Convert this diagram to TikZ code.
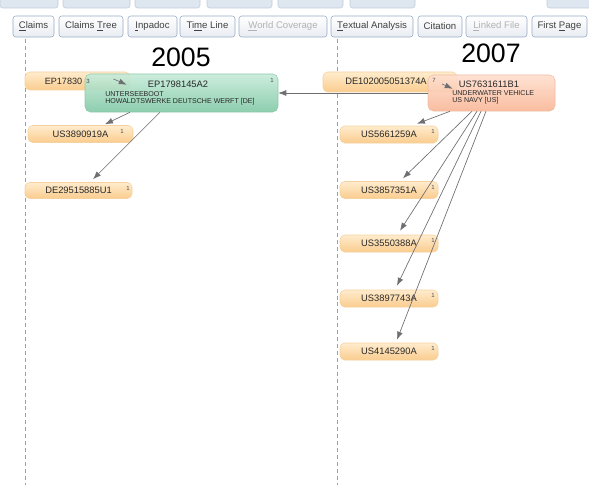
\documentclass[tikz,border=0pt]{standalone}
\usepackage{fontspec}
\setmainfont{Liberation Sans}
\usetikzlibrary{arrows.meta,calc}
\definecolor{tabborder}{RGB}{150,170,198}
\definecolor{tabbot}{RGB}{232,236,242}
\definecolor{stripc}{RGB}{222,230,240}
\definecolor{orgtop}{RGB}{255,236,205}
\definecolor{orgbot}{RGB}{250,204,142}
\definecolor{orgline}{RGB}{245,210,160}
\definecolor{grtop}{RGB}{200,236,218}
\definecolor{grbot}{RGB}{132,202,168}
\definecolor{grline}{RGB}{140,200,170}
\definecolor{saltop}{RGB}{255,224,208}
\definecolor{salbot}{RGB}{249,184,152}
\definecolor{salline}{RGB}{240,185,160}
\definecolor{conncol}{RGB}{110,110,115}
\definecolor{txt}{RGB}{40,40,40}
\begin{document}
\begin{tikzpicture}[x=0.75pt,y=-0.75pt,
  boxsize/.style 2 args={minimum width=#1*0.75pt, minimum height=#2*0.75pt},
  strip/.style={draw=tabborder!60, fill=stripc, rounded corners=2pt},
  tab/.style={draw=tabborder, top color=white, bottom color=tabbot, rounded corners=2pt,
    inner sep=0pt, font=\fontsize{7.2}{8}\selectfont, text=black!75},
  greytab/.style={tab, text=black!30},
  cite/.style={rounded corners=3.5pt, top color=orgtop, bottom color=orgbot, draw=orgline,
    inner sep=0pt, font=\fontsize{7}{8}\selectfont, text=txt},
  cnt/.style={font=\fontsize{4.5}{5}\selectfont, text=black!70, inner sep=0pt},
  big/.style={rounded corners=4pt, draw=#1line, top color=#1top, bottom color=#1bot, opacity=0.92, inner sep=0pt},
  title/.style={font=\fontsize{7}{8}\selectfont, text=txt, inner sep=0pt},
  sub/.style={font=\fontsize{5.3}{6}\selectfont, text=txt, inner sep=0pt, anchor=west},
  year/.style={font=\fontsize{20}{22}\selectfont, text=black, inner sep=0pt},
  timeline/.style={draw=gray!75, line width=0.5pt, dash pattern=on 3pt off 2.2pt},
  conn/.style={draw=conncol, line width=0.5pt, -{Latex[length=6pt,width=4.4pt]}}]
\useasboundingbox (0,0) rectangle (589,485);
\fill[white] (0,0) rectangle (589,485);

% upper faint tab strip
\foreach \a/\b in {0/58,63/130,135/200,207/272,278/343,350/415,547/595}
  \draw[strip] (\a,-4) rectangle (\b,8);

% tabs
\node[tab, boxsize={41}{21}] (t1) at (33.5,26.5) {\underline{C}laims};
\node[tab, boxsize={64}{21}] (t2) at (91,26.5) {Claims \underline{T}ree};
\node[tab, boxsize={49}{21}] (t3) at (152.5,26.5) {\underline{I}npadoc};
\node[tab, boxsize={55}{21}] (t4) at (207.5,26.5) {Ti\underline{m}e Line};
\node[greytab, boxsize={88}{21}] (t5) at (283,26.5) {\underline{W}orld Coverage};
\node[tab, boxsize={82}{21}] (t6) at (372,26.5) {\underline{T}extual Analysis};
\node[tab, boxsize={44}{21}] (t7) at (440,26.5) {Citation};
\node[greytab, boxsize={61}{21}] (t8) at (496.5,26.5) {\underline{L}inked File};
\node[tab, boxsize={55}{21}] (t9) at (559.5,26.5) {First \underline{P}age};

% time lines
\coordinate (la) at (25,39);
\coordinate (lb) at (25,485);
\coordinate (ra) at (337,39);
\coordinate (rb) at (337,485);
\draw[timeline] (la) -- (lb);
\draw[timeline] (ra) -- (rb);

% years
\node[year] (y05) at (181,57) {2005};
\node[year] (y07) at (491,53) {2007};

% partly hidden node
\node[cite, boxsize={105}{18}] (ep1) at (77.5,81) {};
\node[font=\fontsize{6.8}{8}\selectfont, text=txt, inner sep=0pt] (ep1t) at (63.5,81) {EP17830};

% green node
\node[big=gr, boxsize={193}{38}] (gr) at (181.5,93) {};
\node[cnt] (ep1c) at (88,81) {3};
\node[title] (grt) at (178,84) {EP1798145A2};
\node[cnt] (grc) at (272,80) {1};
\node[sub] (grs1) at (105,94.5) {UNTERSEEBOOT};
\node[sub] (grs2) at (105,101.5) {HOWALDTSWERKE DEUTSCHE WERFT [DE]};
\draw[conn] ($(ep1.center)+(36,-2)$) -- ($(gr.north west)+(42,11)$);

% left cited nodes
\node[cite, boxsize={105}{17}] (l1) at (80.5,134) {US3890919A};
\node[cnt] (l1c) at (122,131) {1};
\node[cite, boxsize={107}{16}] (l2) at (78.5,190.5) {DE29515885U1};
\node[cnt] (l2c) at (128,188) {1};
\draw[conn] ($(gr.south)+(-51.5,0)$) -- ($(l1.north)+(24.5,-1)$);
\draw[conn] ($(gr.south)+(-21.5,0)$) -- ($(l2.north)+(14.5,-3)$);

% right side
\node[cite, boxsize={134}{20}] (de) at (390,82) {};
\node[font=\fontsize{7}{8}\selectfont, text=txt, inner sep=0pt] (det) at (386,81) {DE102005051374A};
\node[big=sal, boxsize={127}{36}] (sal) at (491.5,93) {};
\node[cnt] (dec) at (434,80) {7};
\draw[conn] (sal.west) -- (gr.east);
\node[title] (salt) at (489,84) {US7631611B1};
\node[sub] (sals1) at (452,93.5) {UNDERWATER VEHICLE};
\node[sub] (sals2) at (452,101) {US NAVY [US]};
\draw[conn] ($(de.center)+(52,2)$) -- ($(sal.north west)+(25,14)$);

\node[cite, boxsize={98}{17}] (r1) at (389,134.5) {US5661259A};
\node[cnt] (r1c) at (433,131) {1};
\node[cite, boxsize={98}{17}] (r2) at (389,190) {US3857351A};
\node[cnt] (r2c) at (433,187) {1};
\node[cite, boxsize={98}{17}] (r3) at (389,243.5) {US3550388A};
\node[cnt] (r3c) at (433,240) {1};
\node[cite, boxsize={98}{17}] (r4) at (389,298.5) {US3897743A};
\node[cnt] (r4c) at (433,295) {1};
\node[cite, boxsize={98}{17}] (r5) at (389,351.5) {US4145290A};
\node[cnt] (r5c) at (433,348) {1};

\draw[conn] ($(sal.south)+(-41.5,0)$) -- ($(r1.north)+(28,-2)$);
\draw[conn] ($(sal.south)+(-19.5,0)$) -- ($(r2.north)+(14,-3)$);
\draw[conn] ($(sal.south)+(-14.5,0)$) -- ($(r3.north)+(11,-4)$);
\draw[conn] ($(sal.south)+(-10.5,0)$) -- ($(r4.north)+(8,-4)$);
\draw[conn] ($(sal.south)+(-5.5,0)$) -- ($(r5.north)+(8,-3)$);
\end{tikzpicture}
\end{document}
